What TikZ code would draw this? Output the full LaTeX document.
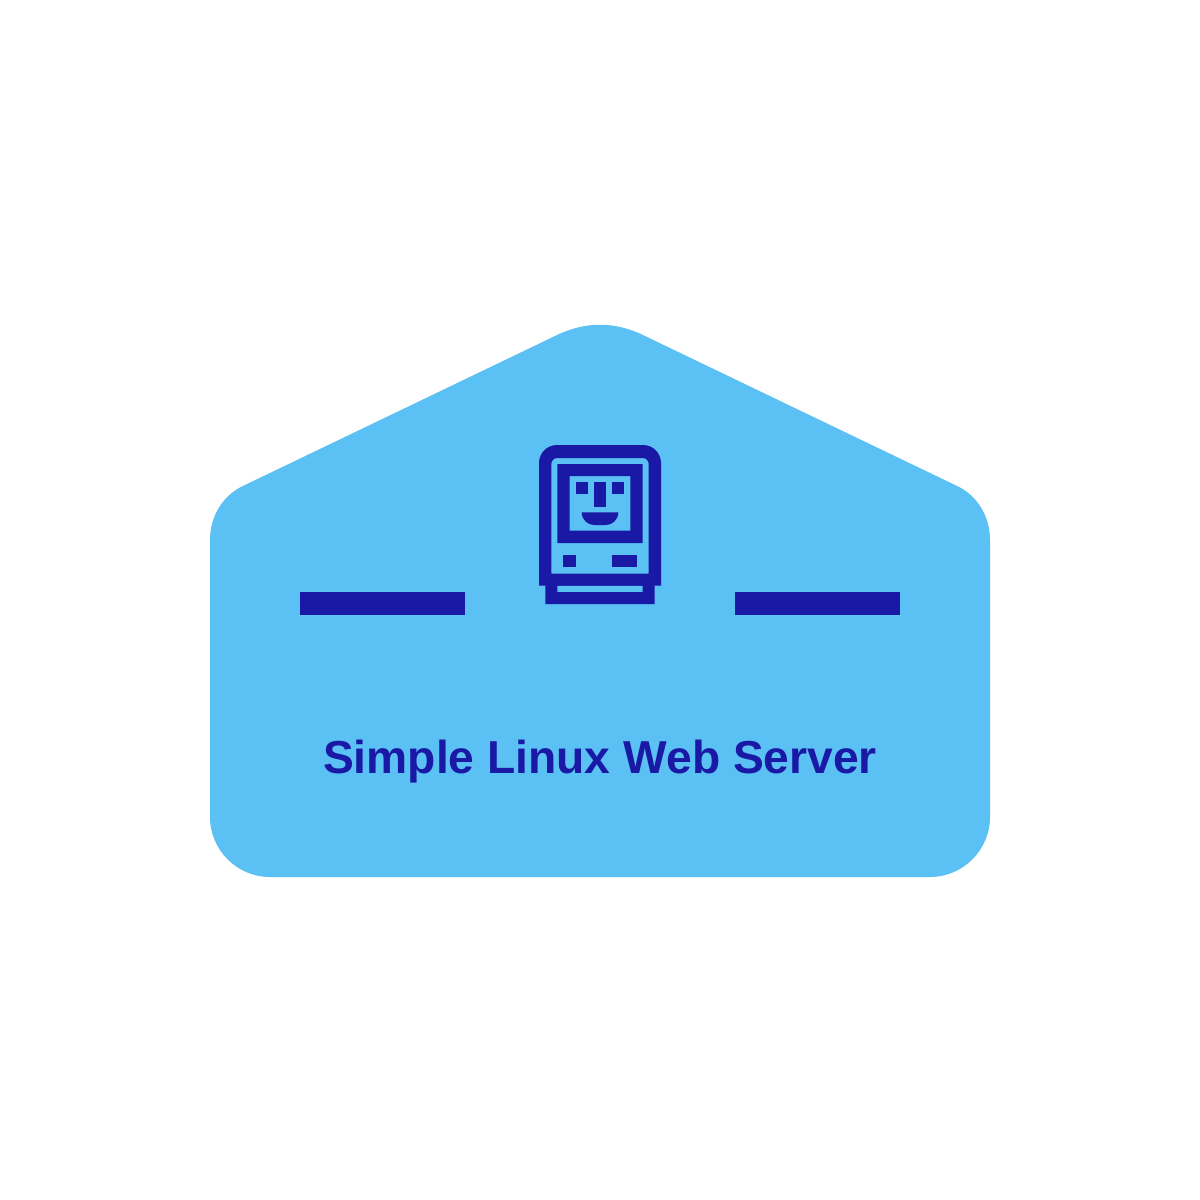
\documentclass[tikz,border=0pt]{standalone}
\usepackage{fontspec}
\setmainfont{Liberation Sans}
\definecolor{panel}{HTML}{5BC0F3}
\definecolor{ink}{HTML}{1919A6}
\tikzset{inkfill/.style={fill=ink,draw=none},
  title/.style={inner sep=0pt,anchor=base,text=ink,font=\fontsize{46.2}{54}\selectfont\bfseries}}
\begin{document}
\begin{tikzpicture}[x=1pt,y=-1pt]
\useasboundingbox (0,0) rectangle (1200,1200);
\fill[white] (0,0) rectangle (1200,1200);
% house panel
\fill[panel] (270,877) -- (930,877)
  .. controls (963,877) and (990,850) .. (990,817)
  -- (990,540)
  .. controls (990,515) and (976,494) .. (955,485)
  -- (645,336)
  .. controls (615,321) and (585,321) .. (555,336)
  -- (245,485)
  .. controls (224,494) and (210,515) .. (210,540)
  -- (210,817)
  .. controls (210,850) and (237,877) .. (270,877) -- cycle;
% bars
\fill[inkfill] (300,592) rectangle (465,615);
\fill[inkfill] (735,592) rectangle (900,615);
% computer body
\fill[inkfill,even odd rule]
  (539,585.7) -- (539,463) .. controls (539,453) and (547,445) .. (557,445) -- (643,445)
  .. controls (653,445) and (661,453) .. (661,463) -- (661,585.7) -- cycle
  (551.3,573.7) -- (648.7,573.7) -- (648.7,464) .. controls (648.7,460.7) and (646,458) .. (642.7,458)
  -- (557.3,458) .. controls (554,458) and (551.3,460.7) .. (551.3,464) -- cycle;
% foot
\fill[inkfill,even odd rule] (545.3,585) rectangle (654.7,604)
  (557.3,585.7) rectangle (642.7,592);
% screen
\fill[inkfill,even odd rule] (557.3,464) rectangle (642.7,543)
  (569.7,476) rectangle (630.3,530.7);
% face
\fill[inkfill] (575.7,482) rectangle (587.7,494.3);
\fill[inkfill] (594,482) rectangle (606,506.7);
\fill[inkfill] (612.3,482) rectangle (624.3,494.3);
\fill[inkfill] (581.7,512.3) -- (618.3,512.3) .. controls (618.3,520) and (612,525) .. (606,525)
  -- (594,525) .. controls (588,525) and (581.7,520) .. (581.7,512.3) -- cycle;
% buttons
\fill[inkfill] (563.3,555.3) rectangle (575.7,567.3);
\fill[inkfill] (612.3,555.3) rectangle (636.7,567.3);
\node[title] (label) at (600,773) {Simple Linux Web Server};
\end{tikzpicture}
\end{document}
